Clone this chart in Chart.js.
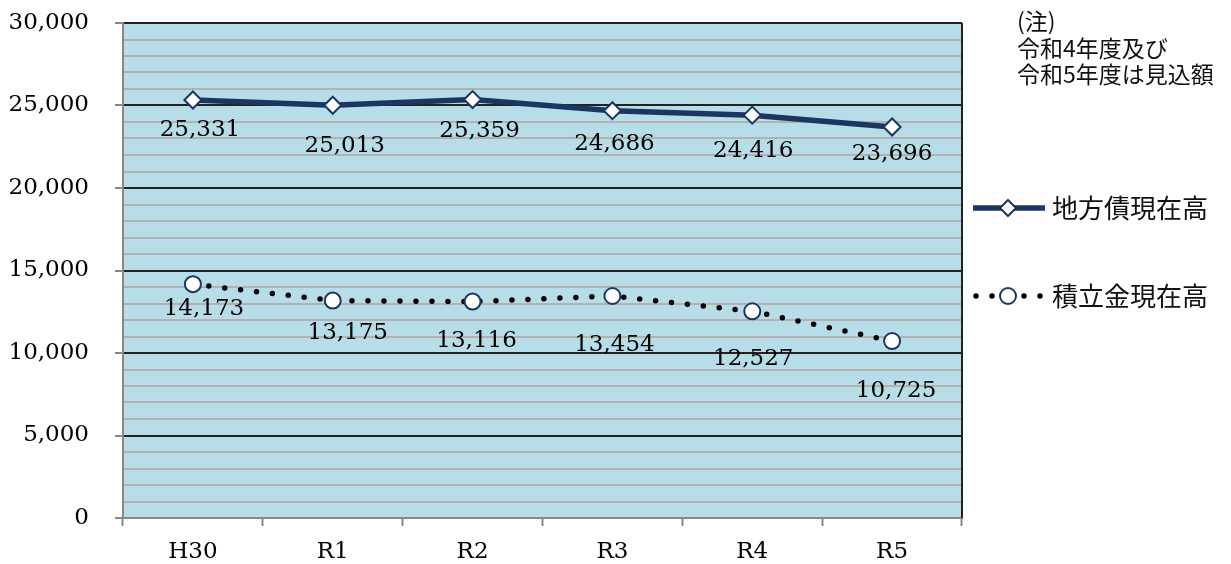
<!DOCTYPE html>
<html>
<head>
<meta charset="utf-8">
<script src="https://cdn.jsdelivr.net/npm/chart.js@4.4.0/dist/chart.umd.min.js"></script>
<style>
  html, body { margin: 0; padding: 0; background: #fff; }
  #wrap { position: relative; width: 1231px; height: 564px; }
  #note {
    position: absolute; left: 1017px; top: 7px;
    font-family: "Noto Sans CJK JP", sans-serif; font-size: 23px; line-height: 26.5px; color: #111;
  }
</style>
</head>
<body>
<div id="wrap">
  <canvas id="debtChart" width="1231" height="564"></canvas>
  <div id="note">(注)<br>令和4年度及び<br>令和5年度は見込額</div>
</div>
<script>
const years = ['H30', 'R1', 'R2', 'R3', 'R4', 'R5']
const debtValues = [25331, 25013, 25359, 24686, 24416, 23696]
const fundValues = [14173, 13175, 13116, 13454, 12527, 10725]
const seriesNames = ['地方債現在高', '積立金現在高']

const navy = '#1b3660'
const serif = 'DejaVu Serif'

// where each value label sits relative to its point (centre of text)
const labelShift = [
    [[7, 30], [12, 41], [7, 31], [2, 33], [1, 36], [0, 27]],
    [[11, 25], [15, 32], [4, 39], [2, 49], [1, 48], [4, 50]]
]

const plotBack = {
    id: 'plotBack',
    beforeDraw(chart) {
        const a = chart.chartArea
        const c = chart.ctx
        c.save()
        c.fillStyle = '#b7dde8'
        c.fillRect(a.left, a.top, a.right - a.left, a.bottom - a.top)
        c.restore()
    },
    afterDatasetsDraw(chart) {
        const a = chart.chartArea
        const c = chart.ctx
        c.save()
        c.strokeStyle = '#222'
        c.lineWidth = 2
        c.beginPath()
        c.moveTo(a.right, a.top)
        c.lineTo(a.right, a.bottom)
        c.stroke()
        c.restore()
    }
}

const valueLabels = {
    id: 'valueLabels',
    afterDatasetsDraw(chart) {
        const c = chart.ctx
        c.save()
        c.font = '23px "' + serif + '"'
        c.fillStyle = '#000'
        c.textAlign = 'center'
        c.textBaseline = 'middle'
        chart.data.datasets.forEach((ds, i) => {
            chart.getDatasetMeta(i).data.forEach((pt, j) => {
                const s = labelShift[i][j]
                c.fillText(ds.data[j].toLocaleString('en-US'), pt.x + s[0], pt.y + s[1])
            })
        })
        c.restore()
    }
}

const sideLegend = {
    id: 'sideLegend',
    afterDraw(chart) {
        const c = chart.ctx
        const rows = [208, 296]
        c.save()
        chart.data.datasets.forEach((ds, i) => {
            const y = rows[i]
            c.save()
            c.strokeStyle = ds.borderColor
            c.lineWidth = ds.borderWidth
            c.lineCap = i === 1 ? 'round' : 'butt'
            c.setLineDash(i === 1 ? [0, 16] : [])
            c.beginPath()
            c.moveTo(i === 1 ? 976 : 973, y)
            c.lineTo(1045, y)
            c.stroke()
            c.restore()
            c.fillStyle = ds.pointBackgroundColor
            c.strokeStyle = ds.pointBorderColor
            c.lineWidth = ds.pointBorderWidth
            c.beginPath()
            if (i === 0) {
                c.moveTo(1008, y - 8); c.lineTo(1016, y); c.lineTo(1008, y + 8); c.lineTo(1000, y)
            } else {
                c.arc(1008, y, 8, 0, Math.PI * 2)
            }
            c.closePath()
            c.fill()
            c.stroke()
            c.fillStyle = '#111'
            c.font = '26px "Noto Sans CJK JP"'
            c.textAlign = 'left'
            c.textBaseline = 'middle'
            c.fillText(ds.label, 1052, y)
        })
        c.restore()
    }
}

let ctx = document.getElementById('debtChart').getContext('2d')
let debtChart = new Chart(ctx, {
    type: 'line',
    data: {
        labels: years,
        datasets: [{
            label: seriesNames[0],
            data: debtValues,
            borderColor: navy,
            borderWidth: 5.5,
            pointStyle: 'rectRot',
            pointRadius: 8.5,
            pointBorderWidth: 2,
            pointBackgroundColor: '#fff',
            pointBorderColor: navy,
            tension: 0
        }, {
            label: seriesNames[1],
            data: fundValues,
            borderColor: '#000',
            borderWidth: 5.5,
            borderDash: [0, 16],
            borderCapStyle: 'round',
            pointStyle: 'circle',
            pointRadius: 8,
            pointBorderWidth: 2,
            pointBackgroundColor: '#fff',
            pointBorderColor: navy,
            tension: 0
        }]
    },
    options: {
        responsive: false,
        animation: false,
        events: [],
        layout: { padding: { left: 0, top: 23, right: 269, bottom: 0 } },
        plugins: {
            legend: { display: false },
            tooltip: { enabled: false }
        },
        scales: {
            x: {
                offset: true,
                afterFit(scale) { scale.height = 46 },
                grid: {
                    offset: true,
                    drawOnChartArea: false,
                    tickLength: 8,
                    tickColor: '#888',
                    tickWidth: 2
                },
                border: { color: '#888', width: 2 },
                ticks: {
                    padding: 12,
                    color: '#000',
                    font: { family: serif, size: 23 }
                }
            },
            y: {
                min: 0,
                max: 30000,
                afterFit(scale) {
                    scale.width = 123
                    scale.paddingTop = 0
                    scale.paddingBottom = 0
                },
                grid: {
                    color: c => c.tick.value === 0 ? '#888' : (c.tick.value % 5000 === 0 ? '#222' : '#b2b2b2'),
                    lineWidth: 2,
                    tickLength: 8,
                    tickColor: c => c.tick.value % 5000 === 0 ? '#888' : 'rgba(0,0,0,0)',
                    tickWidth: 2
                },
                border: { color: '#888', width: 2 },
                ticks: {
                    stepSize: 1000,
                    maxTicksLimit: 40,
                    autoSkip: false,
                    padding: 26,
                    color: '#000',
                    font: { family: serif, size: 23 },
                    callback: v => v % 5000 === 0 ? v.toLocaleString('en-US') : ''
                }
            }
        }
    },
    plugins: [plotBack, valueLabels, sideLegend]
})
</script>
</body>
</html>
